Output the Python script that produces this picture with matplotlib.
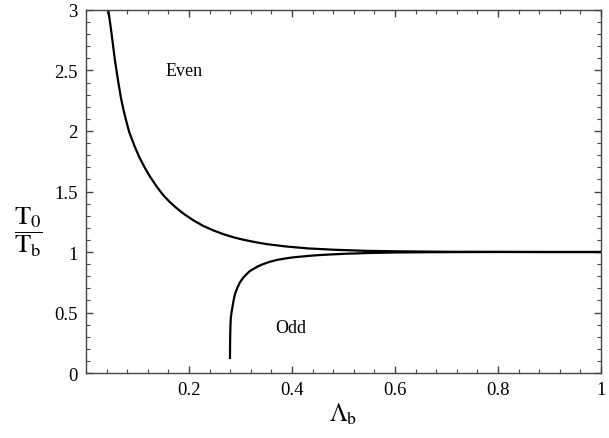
import matplotlib
matplotlib.use("Agg")
from matplotlib import pyplot as plt
from matplotlib.ticker import MultipleLocator

# Even branch (Lambda_b, T0/Tb)
even_x = [0.0433, 0.0495, 0.0563, 0.0625, 0.068, 0.0725, 0.078, 0.084, 0.094, 0.104,
          0.114, 0.124, 0.137, 0.150, 0.162, 0.175, 0.189, 0.208, 0.228, 0.247,
          0.267, 0.286, 0.305, 0.328, 0.351, 0.388, 0.430, 0.480, 0.540, 0.600,
          0.700, 0.800, 0.900, 1.000]
even_y = [3.00, 2.81, 2.58, 2.41, 2.27, 2.18, 2.085, 1.99, 1.878, 1.779,
          1.698, 1.625, 1.542, 1.470, 1.416, 1.366, 1.318, 1.263, 1.215, 1.179,
          1.147, 1.122, 1.102, 1.082, 1.065, 1.046, 1.030, 1.019, 1.010, 1.006,
          1.002, 1.001, 1.000, 1.000]

# Odd branch
odd_x = [0.2796, 0.2798, 0.2802, 0.2810, 0.2825, 0.2848, 0.2868, 0.2893, 0.294, 0.299,
         0.305, 0.312, 0.318, 0.325, 0.334, 0.344, 0.356, 0.370, 0.386, 0.4026,
         0.435, 0.454, 0.500, 0.550, 0.600, 0.700, 0.800, 1.000]
odd_y = [0.124, 0.25, 0.35, 0.446, 0.50, 0.556, 0.605, 0.653, 0.705, 0.75,
         0.786, 0.818, 0.842, 0.86, 0.882, 0.90, 0.918, 0.934, 0.946, 0.956,
         0.969, 0.975, 0.985, 0.992, 0.996, 0.999, 1.000, 1.000]

plt.rcParams["font.family"] = ["Liberation Serif", "DejaVu Serif"]
plt.rcParams["mathtext.fontset"] = "stix"

fig = plt.figure(figsize=(6.09, 4.39), dpi=100)
ax = fig.add_axes([0.1412, 0.148, 0.8457, 0.827])

ax.plot(even_x, even_y, color="black", lw=1.6)
ax.plot(odd_x, odd_y, color="black", lw=1.6)

ax.set_xlim(0, 1)
ax.set_ylim(0, 3)

# ticks like a Mathematica frame
ax.xaxis.set_minor_locator(MultipleLocator(0.04))
ax.yaxis.set_minor_locator(MultipleLocator(0.1))
ax.set_xticks([0.2, 0.4, 0.6, 0.8, 1.0])
ax.set_xticklabels(["0.2", "0.4", "0.6", "0.8", "1"])
ax.set_yticks([0, 0.5, 1, 1.5, 2, 2.5, 3])
ax.set_yticklabels(["0", "0.5", "1", "1.5", "2", "2.5", "3"])
ax.tick_params(which="both", direction="in", top=True, right=True,
               color="#444444", labelsize=13.5, pad=6)
ax.tick_params(which="major", length=5, width=1)
ax.tick_params(which="minor", length=3, width=0.8)
for s in ax.spines.values():
    s.set_color("#444444")
    s.set_linewidth(1.0)

ax.set_xlabel(r"$\Lambda_{\mathrm{b}}$", fontsize=18, labelpad=2)
ax.set_ylabel(r"$\dfrac{\mathrm{T}_0}{\mathrm{T}_{\mathrm{b}}}$", fontsize=19,
              rotation=0, va="center", ha="center")
ax.yaxis.set_label_coords(-0.112, 0.39)

ax.text(0.19, 2.5, "Even", fontsize=13, ha="center", va="center")
ax.text(0.398, 0.38, "Odd", fontsize=13, ha="center", va="center")

fig.savefig("out.png", dpi=100)
